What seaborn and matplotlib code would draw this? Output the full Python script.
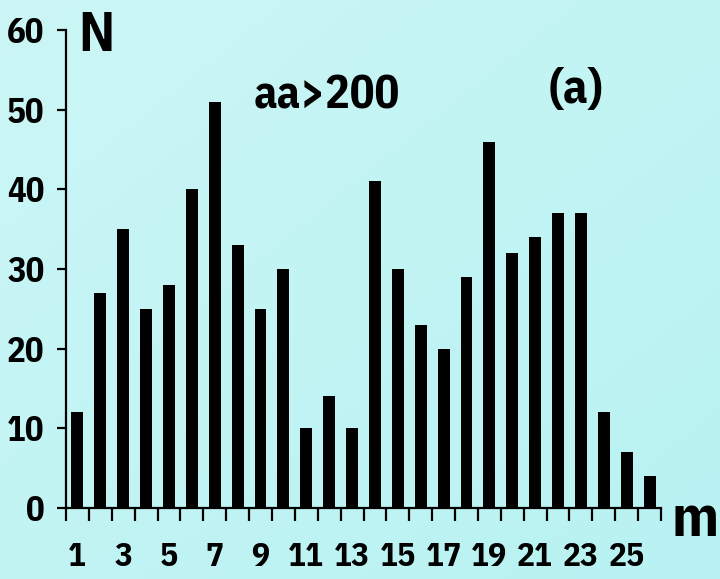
import numpy as np
import pandas as pd
import matplotlib
matplotlib.use("Agg")
import matplotlib.pyplot as plt
import seaborn as sns
from matplotlib.colors import LinearSegmentedColormap
import logging
logging.getLogger('matplotlib.font_manager').setLevel(logging.ERROR)

months = list(range(1, 27))
counts = [12, 27, 35, 25, 28, 40, 51, 33, 25, 30, 10, 14, 10, 41, 30, 23, 20, 29, 46, 32, 34, 37, 37, 12, 7, 4]
xtick_labels = [str(m) for m in range(1, 26, 2)]
ytick_values = [0, 10, 20, 30, 40, 50, 60]

sns.set_style("ticks")
plt.rcParams['font.family'] = ['Liberation Sans Narrow', 'IBM Plex Sans Condensed', 'DejaVu Sans']
plt.rcParams['font.weight'] = 'bold'
for k in ['text.color', 'axes.labelcolor', 'xtick.color', 'ytick.color', 'axes.edgecolor']:
    plt.rcParams[k] = 'black'

fig = plt.figure(figsize=(7.2, 5.79), dpi=100)

# gradient background
bg = fig.add_axes([0, 0, 1, 1], zorder=-10)
gx, gy = np.meshgrid(np.linspace(0, 1, 200), np.linspace(0, 1, 200))
grad = (gx + gy) / 2
cmap = LinearSegmentedColormap.from_list("bgc", ["#CCF6F6", "#B8F2F2"])
bg.imshow(grad, cmap=cmap, aspect='auto', extent=[0, 1, 1, 0])
bg.set_axis_off()

ax = fig.add_axes([66/720, 71/579, (661-66)/720, (508-30)/579])
ax.patch.set_alpha(0)

df = pd.DataFrame({"m": [str(m) for m in months], "N": counts})
sns.barplot(data=df, x="m", y="N", order=[str(m) for m in months], color="black",
            width=0.52, saturation=1, ax=ax, edgecolor="black", linewidth=0)

ax.set_xlim(-0.5, 25.5)
ax.set_ylim(0, 60)
ax.set_xlabel("")
ax.set_ylabel("")

for s in ["top", "right"]:
    ax.spines[s].set_visible(False)
for s in ["left", "bottom"]:
    ax.spines[s].set_linewidth(1.6)
    ax.spines[s].set_color("black")

ax.set_xticks(list(range(0, 25, 2)))
ax.set_xticklabels(xtick_labels)
ax.set_xticks([i - 0.5 for i in range(27)], minor=True)
ax.tick_params(axis="x", which="major", length=0, pad=24, labelsize=24)
ax.tick_params(axis="x", which="minor", direction="out", length=9, width=1.6, color="black")

ax.set_yticks(ytick_values)
ax.set_yticklabels([str(v) for v in ytick_values])
ax.tick_params(axis="y", which="major", direction="out", length=6.5, width=1.6, pad=9, labelsize=25)

for lab in ax.get_xticklabels() + ax.get_yticklabels():
    lab.set_fontweight("bold")

fig.text(96/720, 1 - 36/579, "N", fontsize=40, fontweight="bold", ha="center", va="center")
fig.text(327/720, 1 - 96/579, "aa>200", fontsize=33, fontweight="bold", ha="center", va="center")
fig.text(576/720, 1 - 90/579, "(a)", fontsize=35, fontweight="bold", ha="center", va="center")
fig.text(719/720, 1 - 520/579, "m", fontsize=42, fontweight="bold", ha="right", va="center")

fig.savefig("out.png", dpi=100)
